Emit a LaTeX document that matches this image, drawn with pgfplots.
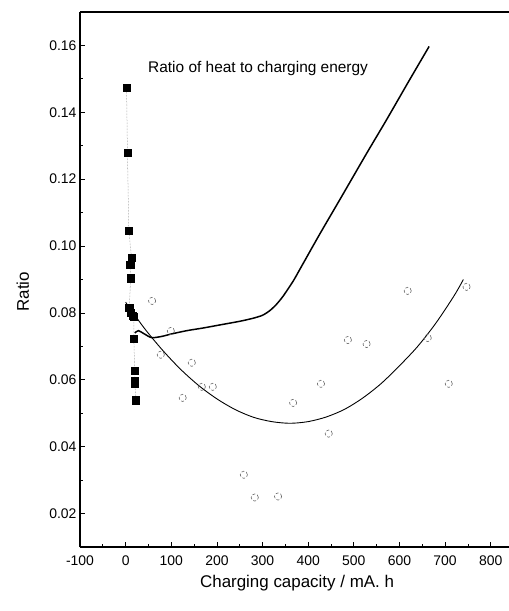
\documentclass[border=0pt]{standalone}
\usepackage{fontspec}
\setmainfont{Liberation Sans}
\usepackage{pgfplots}
\pgfplotsset{compat=1.18}
\begin{document}
\begin{tikzpicture}
\useasboundingbox (-80bp,-64bp) rectangle (429bp,547bp);
\begin{axis}[
  at={(0,0)}, anchor=south west,
  scale only axis, width=429bp, height=535bp,
  xmin=-100, xmax=840, ymin=0.01, ymax=0.17,
  axis x line=box, axis y line=left, axis line style={-, line width=1.2pt},
  xtick={-100,0,...,800}, minor xtick={-50,50,...,850},
  ytick={0.02,0.04,...,0.161}, minor ytick={0.01,0.03,...,0.171},
  tick align=inside, xtick pos=bottom, ytick pos=left,
  major tick length=5bp, minor tick length=3bp,
  tick style={line width=0.8pt, black},
  /pgf/number format/assume math mode=true,
  yticklabel style={/pgf/number format/.cd, fixed, fixed zerofill, precision=2},
  xticklabel style={yshift=-5bp, /pgf/number format/.cd, fixed, int detect},
  ticklabel style={font=\fontsize{14}{16}\selectfont},
  xlabel={Charging capacity / mA. h},
  ylabel={Ratio},
  every axis x label/.style={at={(axis description cs:0.506,-0.067)}, anchor=center, font=\fontsize{17}{20}\selectfont},
  every axis y label/.style={at={(axis description cs:-0.133,0.477)}, rotate=90, anchor=center, font=\fontsize{17}{20}\selectfont},
  clip=false,
]
% filled squares with dotted line
\addplot[gray, densely dotted, line width=0.5pt, mark=square*, mark size=3.6bp,
  mark options={solid, black, fill=black}] coordinates {
(2,0.1474)(4,0.1279)(7,0.1046)(13,0.0964)(10,0.0945)(11,0.0904)(8,0.0815)(12,0.0800)
(16,0.0791)(18,0.0788)(18,0.0722)(20,0.0628)(20,0.0598)(20,0.0588)(23,0.0539)};
% open circles
\addplot[only marks, mark=o, mark size=3.6bp, mark options={black!60, densely dashed, line width=0.6pt}] coordinates {
(58,0.0836)(99,0.0746)(77,0.0675)(145,0.0651)(125,0.0546)(167,0.0579)(191,0.0579)
(259,0.0316)(283,0.0248)(334,0.0251)(367,0.0531)(428,0.0588)(445,0.0439)(487,0.0719)
(528,0.0707)(618,0.0866)(662,0.0725)(708,0.0588)(747,0.0878)};
% upper thick curve
\addplot[black, line width=1.5pt, smooth, tension=0.4] coordinates {
(20,0.0740)(28,0.0747)(40,0.0738)(57,0.0726)(80,0.0730)(100,0.0737)(134,0.0747)
(170,0.0755)(206,0.0764)(250,0.0775)(279,0.0784)(300,0.0793)(316,0.0807)(330,0.0825)
(345,0.0850)(367,0.0895)(382,0.0931)(425,0.1035)(469,0.1138)(528,0.1277)(571,0.1376)
(620,0.1492)(665,0.1597)};
% lower thin curve
\addplot[black, line width=0.9pt, smooth] coordinates {
(0,0.0832)(40,0.0756)(80,0.0690)(120,0.0632)(160,0.0583)(200,0.0543)(240,0.0511)
(280,0.0488)(320,0.0475)(360,0.0470)(400,0.0475)(440,0.0489)(480,0.0512)(520,0.0546)
(560,0.0589)(600,0.0642)(640,0.0700)(680,0.0770)(720,0.0852)(740,0.0900)};
\node[anchor=west, inner sep=0pt, font=\fontsize{15.5}{18}\selectfont] at (axis cs:49,0.153) {Ratio of heat to charging energy};
\end{axis}
\end{tikzpicture}
\end{document}
